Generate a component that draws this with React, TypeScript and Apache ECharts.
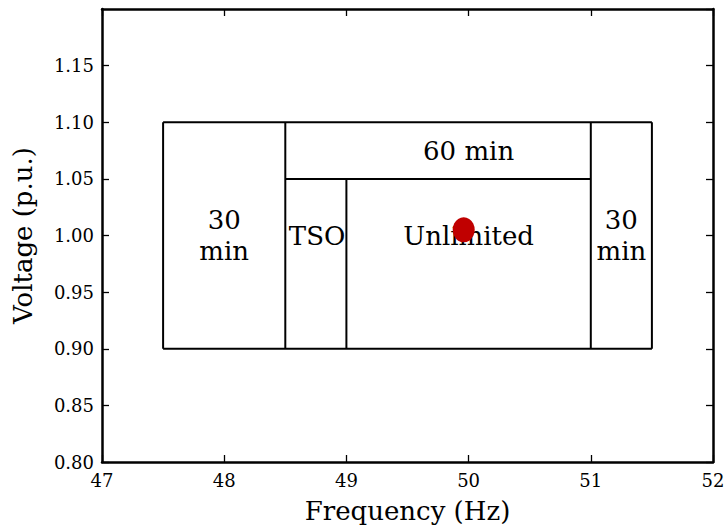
import React, { useEffect, useRef } from "react";
import * as echarts from "echarts";

const xRange = [47, 52];
const yRange = [0.8, 1.2];
const xTickStep = 1;
const yTickStep = 0.05;

// Region boundaries as line segments [x1, y1, x2, y2]
const segments: number[][] = [
  [47.5, 0.9, 51.5, 0.9],
  [51.5, 0.9, 51.5, 1.1],
  [51.5, 1.1, 47.5, 1.1],
  [47.5, 1.1, 47.5, 0.9],
  [48.5, 0.9, 48.5, 1.1],
  [49.0, 0.9, 49.0, 1.05],
  [51.0, 0.9, 51.0, 1.1],
  [48.5, 1.05, 51.0, 1.05],
];

const regionLabels: [number, number, string][] = [
  [48.0, 1.0, "30\nmin"],
  [48.76, 1.0, "TSO"],
  [50.0, 1.0, "Unlimited"],
  [50.0, 1.075, "60 min"],
  [51.25, 1.0, "30\nmin"],
];

const operatingPoint = [[49.96, 1.005]];

const FONT = "DejaVu Serif";

export default function App() {
  const ref = useRef<HTMLDivElement>(null);
  useEffect(() => {
    if (!ref.current) return;
    const chart = echarts.init(ref.current, null, { renderer: "svg" });
    const axisLine = { show: true, lineStyle: { color: "#000", width: 2.5 } };
    const tick = { show: true, inside: true, length: 7, lineStyle: { color: "#000", width: 1.3 } };
    const lineSeries = segments.map((s) => ({
      type: "line",
      data: [
        [s[0], s[1]],
        [s[2], s[3]],
      ],
      showSymbol: false,
      symbol: "none",
      lineStyle: { color: "#000", width: 2 },
      silent: true,
    }));
    chart.setOption({
      animation: false,
      grid: { left: 102, right: 15, top: 9, bottom: 65 },
      xAxis: [
        {
          type: "value",
          min: xRange[0],
          max: xRange[1],
          interval: xTickStep,
          position: "bottom",
          name: "Frequency (Hz)",
          nameLocation: "middle",
          nameGap: 36,
          nameTextStyle: { fontFamily: FONT, fontSize: 26, color: "#000" },
          axisLine,
          axisTick: tick,
          axisLabel: { fontFamily: FONT, fontSize: 18, color: "#000", margin: 9 },
          splitLine: { show: false },
        },
        {
          type: "value",
          min: xRange[0],
          max: xRange[1],
          interval: xTickStep,
          position: "top",
          axisLine,
          axisTick: tick,
          axisLabel: { show: false },
          splitLine: { show: false },
        },
      ],
      yAxis: [
        {
          type: "value",
          min: yRange[0],
          max: yRange[1],
          interval: yTickStep,
          position: "left",
          name: "Voltage (p.u.)",
          nameLocation: "middle",
          nameGap: 66,
          nameTextStyle: { fontFamily: FONT, fontSize: 26, color: "#000" },
          axisLine,
          axisTick: tick,
          axisLabel: {
            fontFamily: FONT,
            fontSize: 18,
            color: "#000",
            margin: 8,
            showMaxLabel: false,
            formatter: (v: number) => v.toFixed(2),
          },
          splitLine: { show: false },
        },
        {
          type: "value",
          min: yRange[0],
          max: yRange[1],
          interval: yTickStep,
          position: "right",
          axisLine,
          axisTick: tick,
          axisLabel: { show: false },
          splitLine: { show: false },
        },
      ],
      series: [
        ...lineSeries,
        {
          type: "scatter",
          data: regionLabels.map((d) => ({ value: [d[0], d[1]], name: d[2] })),
          symbolSize: 0,
          silent: true,
          itemStyle: { opacity: 1 },
          label: {
            show: true,
            position: "inside",
            formatter: (p: any) => p.name,
            fontFamily: FONT,
            fontSize: 26,
            lineHeight: 31,
            color: "#000",
            opacity: 1,
            textBorderWidth: 0,
          },
          z: 3,
        },
        {
          type: "scatter",
          data: operatingPoint,
          symbol: "circle",
          symbolSize: [22, 25],
          itemStyle: { color: "#c00000", opacity: 1 },
          z: 4,
        },
      ],
    });
    return () => chart.dispose();
  }, []);
  return <div ref={ref} style={{ width: 728, height: 529, position: "absolute", left: 0, top: 0 }} />;
}
